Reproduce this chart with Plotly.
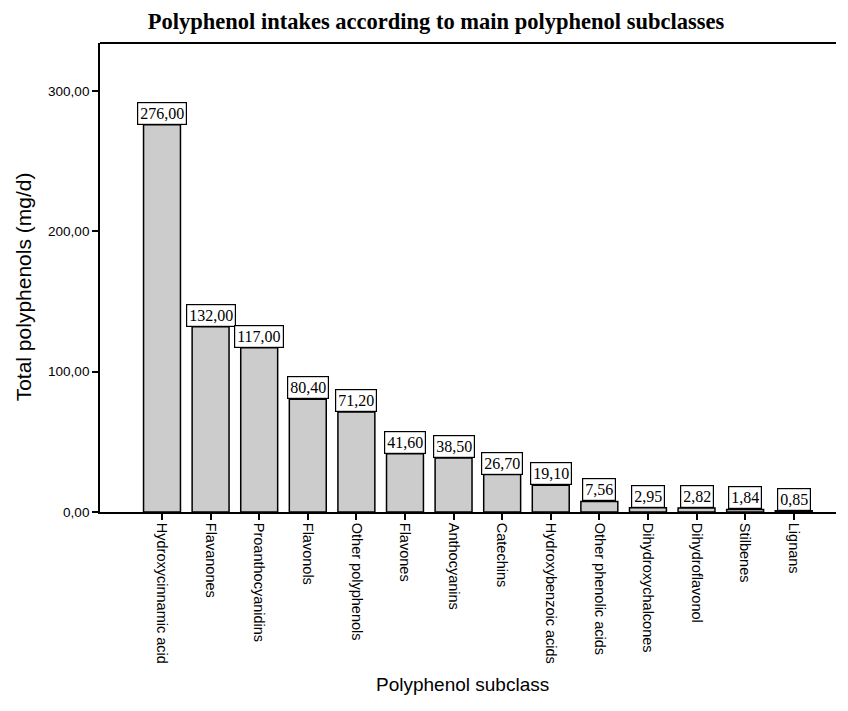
import plotly.graph_objects as go

categories = ["Hydroxycinnamic acid", "Flavanones", "Proanthocyanidins", "Flavonols",
              "Other polyphenols", "Flavones", "Anthocyanins", "Catechins",
              "Hydroxybenzoic acids", "Other phenolic acids", "Dihydroxychalcones",
              "Dihydroflavonol", "Stilbenes", "Lignans"]
values = [276.00, 132.00, 117.00, 80.40, 71.20, 41.60, 38.50, 26.70, 19.10, 7.56,
          2.95, 2.82, 1.84, 0.85]
y_ticks = [0, 100, 200, 300]

fig = go.Figure()
fig.add_trace(go.Bar(
    x=list(range(len(categories))), y=values, width=0.76,
    marker=dict(color="#cccccc", line=dict(color="black", width=1.5)),
    hoverinfo="skip"))

for i, v in enumerate(values):
    fig.add_annotation(x=i, y=v, xref="x", yref="y", yanchor="bottom",
                       text=f"{v:.2f}".replace(".", ","), showarrow=False,
                       font=dict(family="Liberation Serif", size=16, color="black"),
                       bgcolor="white", bordercolor="black", borderwidth=1.2,
                       borderpad=2)

fig.add_annotation(xref="paper", yref="paper", x=0.493, y=-0.368,
                   xanchor="center", yanchor="middle", showarrow=False,
                   text="Polyphenol subclass",
                   font=dict(family="Liberation Sans", size=19, color="black"))
fig.add_annotation(xref="paper", yref="paper", x=-0.104, y=0.48,
                   xanchor="center", yanchor="middle", showarrow=False,
                   textangle=-90, text="Total polyphenols (mg/d)",
                   font=dict(family="Liberation Sans", size=21, color="black"))

# top frame line (no right border in the reference)
fig.add_shape(type="line", xref="paper", yref="paper", x0=0, x1=1.02, y0=1, y1=1,
              line=dict(color="black", width=1.8))

fig.update_layout(
    width=828, height=688,
    margin=dict(l=92, r=0, t=35, b=184),
    paper_bgcolor="white", plot_bgcolor="white",
    separators=",.",
    showlegend=False,
    title=dict(text="<b>Polyphenol intakes according to main polyphenol subclasses</b>",
               x=428/828, xanchor="center", y=1 - 13/688, yanchor="middle",
               font=dict(family="Liberation Serif", size=22.5, color="black")),
    font=dict(family="Liberation Sans", color="black"),
)
fig.update_xaxes(
    range=[-1.276, 13.87], tickmode="array", tickvals=list(range(len(categories))),
    ticktext=categories, tickangle=90, ticks="outside", ticklen=6, tickwidth=1.5,
    tickcolor="black", showline=True, linecolor="black", linewidth=1.8,
    mirror=False, showgrid=False, zeroline=False, automargin=False,
    tickfont=dict(family="Liberation Sans", size=14.5))
fig.update_yaxes(
    range=[0, 334.3], tickmode="array", tickvals=y_ticks, tickformat=".2f",
    ticks="outside", ticklen=6, tickwidth=1.5, tickcolor="black",
    showline=True, linecolor="black", linewidth=1.8, showgrid=False, zeroline=False,
    automargin=False,
    tickfont=dict(family="Liberation Sans", size=13.5))

fig.write_html("out.html")
